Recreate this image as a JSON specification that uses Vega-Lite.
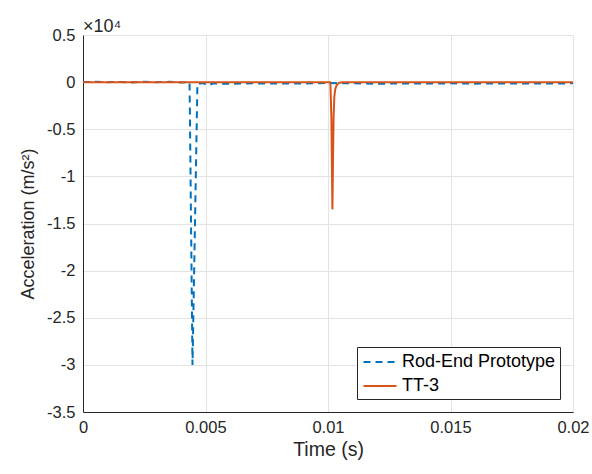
{
  "$schema": "https://vega.github.io/schema/vega-lite/v6.json",
  "width": 490,
  "height": 377,
  "autosize": {"type": "none"},
  "padding": {"left": 83, "top": 35, "right": 19, "bottom": 62},
  "background": "white",
  "config": {
    "view": {"stroke": null},
    "font": "Liberation Sans",
    "axis": {
      "labelFont": "Liberation Sans",
      "titleFont": "Liberation Sans",
      "labelColor": "#262626",
      "titleColor": "#262626",
      "domainColor": "#262626",
      "tickColor": "#262626",
      "gridColor": "#e3e3e3",
      "gridOpacity": 1,
      "labelFontSize": 16.5,
      "titleFontWeight": "normal",
      "tickSize": 0
    }
  },
  "title": {
    "text": "×10⁴",
    "anchor": "start",
    "frame": "group",
    "fontSize": 18,
    "fontWeight": "normal",
    "font": "Liberation Sans",
    "color": "#262626",
    "offset": 0,
    "dy": 9
  },
  "data": {
    "values": [
      {"series": "Rod-End Prototype", "t": 0, "a": 0},
      {"series": "Rod-End Prototype", "t": 0.0005, "a": 30},
      {"series": "Rod-End Prototype", "t": 0.001, "a": -20},
      {"series": "Rod-End Prototype", "t": 0.0015, "a": 20},
      {"series": "Rod-End Prototype", "t": 0.002, "a": -30},
      {"series": "Rod-End Prototype", "t": 0.0025, "a": 40},
      {"series": "Rod-End Prototype", "t": 0.003, "a": -20},
      {"series": "Rod-End Prototype", "t": 0.0035, "a": 30},
      {"series": "Rod-End Prototype", "t": 0.004, "a": -40},
      {"series": "Rod-End Prototype", "t": 0.00435, "a": 0},
      {"series": "Rod-End Prototype", "t": 0.00447, "a": -30000},
      {"series": "Rod-End Prototype", "t": 0.00467, "a": -200},
      {"series": "Rod-End Prototype", "t": 0.0049, "a": -100},
      {"series": "Rod-End Prototype", "t": 0.0051, "a": -350},
      {"series": "Rod-End Prototype", "t": 0.0053, "a": -150},
      {"series": "Rod-End Prototype", "t": 0.006, "a": -170},
      {"series": "Rod-End Prototype", "t": 0.007, "a": -130},
      {"series": "Rod-End Prototype", "t": 0.008, "a": -160},
      {"series": "Rod-End Prototype", "t": 0.009, "a": -140},
      {"series": "Rod-End Prototype", "t": 0.01, "a": -100},
      {"series": "Rod-End Prototype", "t": 0.011, "a": -120},
      {"series": "Rod-End Prototype", "t": 0.012, "a": -180},
      {"series": "Rod-End Prototype", "t": 0.013, "a": -140},
      {"series": "Rod-End Prototype", "t": 0.014, "a": -150},
      {"series": "Rod-End Prototype", "t": 0.015, "a": -130},
      {"series": "Rod-End Prototype", "t": 0.016, "a": -160},
      {"series": "Rod-End Prototype", "t": 0.017, "a": -150},
      {"series": "Rod-End Prototype", "t": 0.018, "a": -140},
      {"series": "Rod-End Prototype", "t": 0.019, "a": -150},
      {"series": "Rod-End Prototype", "t": 0.02, "a": -130},
      {"series": "TT-3", "t": 0, "a": 0},
      {"series": "TT-3", "t": 0.005, "a": 0},
      {"series": "TT-3", "t": 0.01008, "a": 0},
      {"series": "TT-3", "t": 0.0101, "a": -300},
      {"series": "TT-3", "t": 0.01014, "a": -4000},
      {"series": "TT-3", "t": 0.01018, "a": -13500},
      {"series": "TT-3", "t": 0.01021, "a": -7000},
      {"series": "TT-3", "t": 0.01023, "a": -3500},
      {"series": "TT-3", "t": 0.01026, "a": -1500},
      {"series": "TT-3", "t": 0.0103, "a": -700},
      {"series": "TT-3", "t": 0.01036, "a": -300},
      {"series": "TT-3", "t": 0.01045, "a": -80},
      {"series": "TT-3", "t": 0.0106, "a": 0},
      {"series": "TT-3", "t": 0.015, "a": 0},
      {"series": "TT-3", "t": 0.02, "a": 0}
    ]
  },
  "mark": {"type": "line", "strokeWidth": 2, "clip": true},
  "encoding": {
    "x": {
      "field": "t",
      "type": "quantitative",
      "scale": {"domain": [0, 0.02], "nice": false, "zero": false},
      "axis": {
        "values": [0, 0.005, 0.01, 0.015, 0.02],
        "labelExpr": "'' + datum.value",
        "title": "Time (s)",
        "titleFontSize": 19.5,
        "labelPadding": 7,
        "titlePadding": 5,
        "labelFlush": false
      }
    },
    "y": {
      "field": "a",
      "type": "quantitative",
      "scale": {"domain": [-35000, 5000], "nice": false, "zero": false},
      "axis": {
        "values": [-35000, -30000, -25000, -20000, -15000, -10000, -5000, 0, 5000],
        "labelExpr": "'' + (datum.value / 10000)",
        "title": "Acceleration (m/s²)",
        "titleFontSize": 18,
        "labelPadding": 8,
        "titlePadding": 9,
        "labelFlush": false
      }
    },
    "color": {
      "field": "series",
      "type": "nominal",
      "scale": {"domain": ["Rod-End Prototype", "TT-3"], "range": ["#0072BD", "#D95319"]},
      "legend": {
        "title": null,
        "orient": "none",
        "legendX": 274,
        "legendY": 312,
        "symbolType": "M-1.65,0H1.65",
        "symbolSize": 400,
        "symbolStrokeWidth": 2,
        "symbolOffset": 8,
        "labelFontSize": 18,
        "labelFont": "Liberation Sans",
        "labelColor": "#000000",
        "strokeColor": "#262626",
        "fillColor": "white",
        "padding": 4,
        "rowPadding": 4,
        "labelOffset": 11
      }
    },
    "strokeDash": {
      "field": "series",
      "type": "nominal",
      "scale": {"domain": ["Rod-End Prototype", "TT-3"], "range": [[7, 5], [1, 0]]},
      "legend": null
    }
  }
}
